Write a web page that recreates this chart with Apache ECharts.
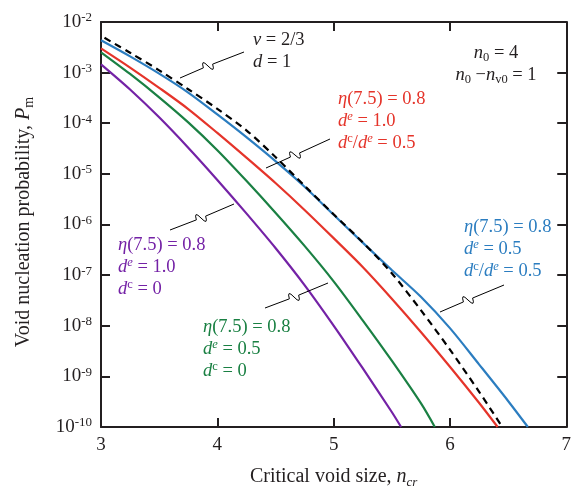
<!DOCTYPE html>
<html><head><meta charset="utf-8">
<script src="https://cdn.jsdelivr.net/npm/echarts@6/dist/echarts.min.js"></script>
<style>html,body{margin:0;padding:0;background:#fff}#c{width:574px;height:494px}</style>
</head><body><div id="c"></div>
<script>
// ---- data ----
const xTickValues = [3, 4, 5, 6, 7];
const yMin = 1e-10, yMax = 1e-2;

const blueX = [3.00, 3.25, 3.50, 3.75, 4.00, 4.25, 4.50, 4.75, 5.00, 5.25, 5.50, 5.75, 6.00, 6.25, 6.50, 6.67];
const blueY = [4.35e-3, 2.09e-3, 9.53e-4, 4.03e-4, 1.49e-4, 5.30e-5, 1.78e-5, 5.57e-6, 1.56e-6, 4.38e-7, 1.26e-7, 3.74e-8, 8.97e-9, 1.73e-9, 3.27e-10, 1e-10];

const dashX = [3.03, 3.25, 3.50, 3.75, 4.00, 4.25, 4.50, 4.75, 5.00, 5.25, 5.50, 5.75, 6.00, 6.25, 6.45];
const dashY = [4.87e-3, 2.47e-3, 1.11e-3, 4.70e-4, 1.93e-4, 7.26e-5, 2.15e-5, 5.81e-6, 1.59e-6, 4.45e-7, 1.09e-7, 2.03e-8, 3.37e-9, 5.00e-10, 1e-10];

const redX = [3.00, 3.25, 3.50, 3.75, 4.00, 4.25, 4.50, 4.75, 5.00, 5.25, 5.50, 5.75, 6.00, 6.25, 6.41];
const redY = [3.02e-3, 1.26e-3, 5.01e-4, 1.91e-4, 6.44e-5, 2.09e-5, 6.59e-6, 1.94e-6, 5.38e-7, 1.45e-7, 3.43e-8, 7.55e-9, 1.55e-9, 3.01e-10, 1e-10];

const greenX = [3.00, 3.25, 3.50, 3.75, 4.00, 4.25, 4.50, 4.75, 5.00, 5.25, 5.50, 5.75, 5.87];
const greenY = [2.52e-3, 9.40e-4, 3.25e-4, 1.04e-4, 2.93e-5, 7.29e-6, 1.71e-6, 3.78e-7, 7.55e-8, 1.28e-8, 2.04e-9, 2.95e-10, 1e-10];

const purpleX = [3.00, 3.25, 3.50, 3.75, 4.00, 4.25, 4.50, 4.75, 5.00, 5.25, 5.50, 5.58];
const purpleY = [1.46e-3, 4.65e-4, 1.31e-4, 3.29e-5, 7.60e-6, 1.66e-6, 3.44e-7, 6.37e-8, 1.01e-8, 1.45e-9, 1.98e-10, 1e-10];

// ---- styling ----
const FONT = '"Liberation Serif", "DejaVu Serif", serif';
const INK = '#231f20';
const C_BLUE = '#2b7dc0', C_RED = '#e5342a', C_GREEN = '#1a8043', C_PURPLE = '#7422a6';

function zip(xs, ys) { return xs.map((x, i) => [x, ys[i]]); }

function richFor(color) {
  return {
    r:   {fontFamily: FONT, fontSize: 18.5, fill: color, lineHeight: 22},
    i:   {fontFamily: FONT, fontSize: 18.5, fontStyle: 'italic', fill: color, lineHeight: 22},
    sup: {fontFamily: FONT, fontSize: 12.5, fill: color, lineHeight: 12, verticalAlign: 'top'},
    supi:{fontFamily: FONT, fontSize: 12.5, fontStyle: 'italic', fill: color, lineHeight: 12, verticalAlign: 'top'},
    sub: {fontFamily: FONT, fontSize: 12.5, fill: color, lineHeight: 12, verticalAlign: 'bottom'},
    subi:{fontFamily: FONT, fontSize: 12.5, fontStyle: 'italic', fill: color, lineHeight: 12, verticalAlign: 'bottom'}
  };
}
function label(x, y, text, color, align) {
  return {type: 'text', x: x, y: y, z: 10,
    style: {text: text, fill: color, align: align || 'left', verticalAlign: 'top', rich: richFor(color)}};
}
function leader(s, m, e) {
  const dx = e[0] - s[0], dy = e[1] - s[1];
  const L = Math.hypot(dx, dy);
  const d = [dx / L, dy / L];
  const n = [d[1], -d[0]];
  const a = [m[0] - 5 * d[0], m[1] - 5 * d[1]];
  const b = [m[0] + 5 * d[0], m[1] + 5 * d[1]];
  const c1 = [a[0] + 10 * n[0] + 1 * d[0], a[1] + 10 * n[1] + 1 * d[1]];
  const c2 = [b[0] - 10 * n[0] - 1 * d[0], b[1] - 10 * n[1] - 1 * d[1]];
  const st = {stroke: '#000', lineWidth: 1, fill: null};
  return {type: 'group', children: [
    {type: 'line', z: 10, shape: {x1: s[0], y1: s[1], x2: a[0], y2: a[1]}, style: st},
    {type: 'bezierCurve', z: 10, shape: {x1: a[0], y1: a[1], cpx1: c1[0], cpy1: c1[1], x2: m[0], y2: m[1]}, style: st},
    {type: 'bezierCurve', z: 10, shape: {x1: m[0], y1: m[1], cpx1: c2[0], cpy1: c2[1], x2: b[0], y2: b[1]}, style: st},
    {type: 'line', z: 10, shape: {x1: b[0], y1: b[1], x2: e[0], y2: e[1]}, style: st}
  ]};
}

const chart = echarts.init(document.getElementById('c'), null, {renderer: 'canvas'});

const axisLine = {show: true, lineStyle: {color: INK, width: 2}};
const axisTick = {show: true, inside: true, length: 9, lineStyle: {color: INK, width: 2}};

function lineSeries(name, xs, ys, color, dashed) {
  return {
    name: name, type: 'line', data: zip(xs, ys), showSymbol: false, symbol: 'none',
    smooth: 0.3, clip: true,
    lineStyle: {color: color, width: 2.2, type: dashed ? [7, 5] : 'solid'},
    z: dashed ? 4 : 3
  };
}

chart.setOption({
  animation: false,
  backgroundColor: '#fff',
  grid: {left: 101, right: 5, top: 22, bottom: 67, containLabel: false},
  xAxis: [{
    type: 'value', min: 3, max: 7, interval: 1,
    axisLine: axisLine, axisTick: axisTick, splitLine: {show: false},
    axisLabel: {color: INK, fontFamily: FONT, fontSize: 19, margin: 9},
    name: '{r|Critical void size, }{i|n}{s|cr}', nameLocation: 'middle', nameGap: 38,
    nameTextStyle: {rich: {
      r: {fontFamily: FONT, fontSize: 20, color: INK, lineHeight: 24},
      i: {fontFamily: FONT, fontSize: 20, fontStyle: 'italic', color: INK, lineHeight: 24},
      s: {fontFamily: FONT, fontSize: 13, fontStyle: 'italic', color: INK, lineHeight: 12, verticalAlign: 'bottom'}
    }}
  }, {
    type: 'value', min: 3, max: 7, interval: 1, position: 'top',
    axisLine: axisLine, axisTick: axisTick, axisLabel: {show: false}, splitLine: {show: false}
  }],
  yAxis: [{
    type: 'log', logBase: 10, min: yMin, max: yMax, splitNumber: 8,
    axisLine: axisLine, axisTick: axisTick, splitLine: {show: false}, minorTick: {show: false},
    axisLabel: {
      margin: 9,
      formatter: function (v) { return '{b|10}{s|' + Math.round(Math.log10(v)) + '}'; },
      rich: {
        b: {fontFamily: FONT, fontSize: 19, color: INK, lineHeight: 21},
        s: {fontFamily: FONT, fontSize: 13, color: INK, lineHeight: 10, verticalAlign: 'top'}
      }
    }
  }, {
    type: 'log', logBase: 10, min: yMin, max: yMax, splitNumber: 8, position: 'right',
    axisLine: axisLine, axisTick: axisTick, axisLabel: {show: false}, splitLine: {show: false}
  }],
  series: [
    lineSeries('purple', purpleX, purpleY, C_PURPLE),
    lineSeries('green', greenX, greenY, C_GREEN),
    lineSeries('red', redX, redY, C_RED),
    lineSeries('blue', blueX, blueY, C_BLUE),
    lineSeries('dashed', dashX, dashY, '#000', true)
  ],
  graphic: [
    {type: 'text', x: 24, y: 222, rotation: Math.PI / 2, z: 10,
      style: {text: '{r|Void nucleation probability, }{i|P}{s|m}', align: 'center', verticalAlign: 'middle',
        rich: {
          r: {fontFamily: FONT, fontSize: 20, fill: INK, lineHeight: 24},
          i: {fontFamily: FONT, fontSize: 20, fontStyle: 'italic', fill: INK, lineHeight: 24},
          s: {fontFamily: FONT, fontSize: 14, fill: INK, lineHeight: 12, verticalAlign: 'bottom'}
        }}},
    label(253, 29, '{i|v}{r| = 2/3}\n{i|d}{r| = 1}', INK),
    label(496, 42, '{i|n}{sub|0}{r| = 4}\n{i|n}{sub|0}{r| −}{i|n}{sub|v0}{r| = 1}', INK, 'center'),
    label(338, 88, '{i|η}{r|(7.5) = 0.8}\n{i|d}{supi|e}{r| = 1.0}\n{i|d}{sup|c}{r|/}{i|d}{supi|e}{r| = 0.5}', C_RED),
    label(464, 216, '{i|η}{r|(7.5) = 0.8}\n{i|d}{supi|e}{r| = 0.5}\n{i|d}{sup|c}{r|/}{i|d}{supi|e}{r| = 0.5}', C_BLUE),
    label(118, 234, '{i|η}{r|(7.5) = 0.8}\n{i|d}{supi|e}{r| = 1.0}\n{i|d}{sup|c}{r| = 0}', C_PURPLE),
    label(203, 316, '{i|η}{r|(7.5) = 0.8}\n{i|d}{supi|e}{r| = 0.5}\n{i|d}{sup|c}{r| = 0}', C_GREEN),
    leader([180, 78], [208, 66], [244, 52]),
    leader([266, 168], [295, 155], [330, 139]),
    leader([440, 312], [468, 300], [504, 285]),
    leader([170, 230], [201, 218], [234, 204]),
    leader([265, 308], [294, 297], [328, 283])
  ]
});
</script>
</body></html>
